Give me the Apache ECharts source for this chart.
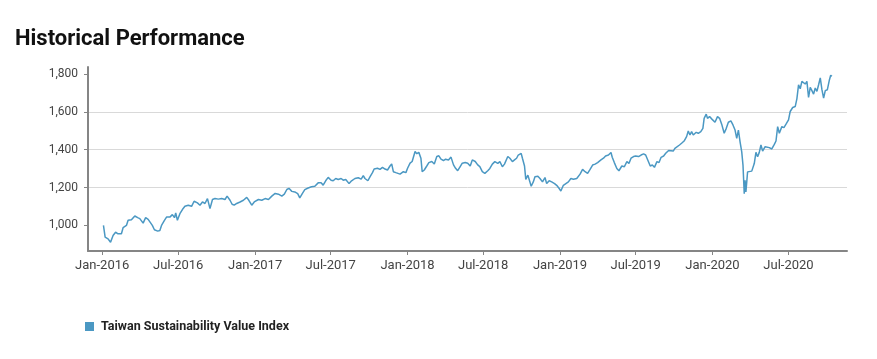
<!DOCTYPE html>
<html>
<head>
<meta charset="utf-8">
<script src="https://cdn.jsdelivr.net/npm/echarts@6/dist/echarts.min.js"></script>
<style>
html,body{margin:0;padding:0;background:#fff;}
#chart{width:877px;height:359px;}
</style>
</head>
<body>
<div id="chart"></div>
<script>
// Days since 2016-01-01 for each observation
var days = [
3,7,14,20,26,32,38,46,50,58,62,70,78,85,90,98,104,110,114,120,125,133,138,142,149,154,162,168,173,176,
180,186,192,198,206,214,220,228,234,240,246,252,258,264,270,278,286,294,299,306,311,316,322,330,338,346,351,358,364,374,
382,390,398,406,414,422,430,436,442,447,
454,461,468,473,479,485,493,501,509,517,524,529,535,541,548,553,559,565,572,577,583,591,597,605,613,620,625,629,636,641,
647,651,659,665,671,677,683,689,693,697,703,707,713,721,727,731,737,742,749,753,758,763,766,771,777,782,789,795,801,806,
811,817,822,829,835,841,846,851,857,862,869,875,881,886,893,899,904,
910,916,923,928,934,940,947,952,958,963,971,976,982,987,992,996,1003,1006,1011,1014,1019,1023,1027,1032,1036,1043,1048,1054,1060,1064,
1070,1076,1083,1088,1094,1098,1104,1110,1116,1122,1128,1136,1144,1150,1156,1162,1168,1174,1180,1186,1194,1200,1205,1212,1218,1221,1226,1232,1237,1244,
1250,1256,1261,1266,1272,1277,1284,1290,1296,1301,1306,1312,1317,1322,1328,1333,1338,1344,1349,1356,1360,
1367,1371,1375,1382,1387,1393,1399,1403,1407,1411,1415,1422,1427,1433,1438,1441,1446,1449,1454,1459,1463,1467,1473,1478,1483,1489,1494,1499,1505,1510,
1515,1519,1523,1527,1531,1534,1537,1539,1541,1545,1549,1555,1561,1565,1569,1573,1577,1581,1587,1591,1597,1603,1609,1613,1617,1621,1627,1632,1637,1643,
1647,1653,1659,1663,1667,1671,1675,1679,1683,1687,1691,1695,1699,1703,1707,1711,1715,1719,1723,1727,1731,1736,1741,1744,1747
];
var values = [
1000,938,929,911,947,964,956,956,988,1000,1027,1030,1050,1041,1036,1012,1041,1032,1036,1000,977,970,973,1000,1027,1044,1044,1057,1041,1066,
1027,1062,1084,1101,1107,1101,1128,1119,1107,1124,1116,1142,1089,1137,1142,1139,1142,1137,1155,1133,1112,1107,1116,1124,1133,1148,1133,1107,1124,1137,
1133,1142,1137,1155,1169,1165,1155,1165,1190,1196,
1180,1177,1168,1146,1168,1189,1198,1204,1207,1225,1225,1213,1236,1254,1239,1236,1248,1243,1248,1239,1243,1221,1236,1248,1252,1245,1263,1248,1236,1257,
1279,1298,1302,1296,1307,1298,1293,1314,1325,1284,1279,1289,1271,1284,1279,1302,1329,1338,1391,1379,1386,1355,1284,1293,1314,1332,1338,1325,1364,1368,
1350,1343,1350,1346,1361,1320,1302,1289,1311,1329,1332,1329,1314,1346,1338,1320,1311,
1284,1275,1289,1301,1324,1337,1328,1337,1310,1324,1364,1355,1337,1346,1355,1372,1381,1355,1314,1243,1266,1257,1207,1230,1257,1260,1248,1230,1253,1221,
1236,1230,1221,1212,1195,1182,1212,1221,1230,1248,1244,1248,1271,1296,1284,1275,1296,1319,1324,1332,1346,1355,1367,1372,1385,1360,1332,1301,1289,1314,
1310,1337,1328,1355,1364,1367,1364,1372,1378,1372,1346,1314,1319,1307,1337,1332,1360,1367,1381,1396,1390,
1393,1407,1398,1425,1434,1446,1469,1499,1478,1496,1478,1492,1487,1496,1513,1566,1588,1566,1575,1563,1570,1545,1575,1566,1535,1487,1513,1545,1552,1531,
1504,1460,1504,1442,1389,1319,1168,1239,1177,1283,1274,1287,1327,1386,1363,1386,1425,1393,1416,1407,1411,1404,1428,1446,1522,1487,1522,1517,1535,1558,
1602,1623,1628,1669,1743,1722,1761,1770,1747,1761,1676,1729,1712,1694,1726,1708,1743,1779,1717,1673,1712,1717,1770,1793,1788
];
var seriesName = 'Taiwan Sustainability Value Index';
var tickDates = ['2016-01-01','2016-07-01','2017-01-01','2017-07-01','2018-01-01','2018-07-01','2019-01-01','2019-07-01','2020-01-01','2020-07-01'];
var tickLabels = ['Jan-2016','Jul-2016','Jan-2017','Jul-2017','Jan-2018','Jul-2018','Jan-2019','Jul-2019','Jan-2020','Jul-2020'];
var yTicks = [1000, 1200, 1400, 1600, 1800];
var yMin = 865, yMax = 1837;
var xMinDay = -34, xMaxDay = 1783;

var DAY = 86400000;
var base = Date.UTC(2016, 0, 1);
function dayOf(s){ var p = s.split('-'); return Math.round((Date.UTC(+p[0], +p[1]-1, +p[2]) - base) / DAY); }
var tickDays = tickDates.map(dayOf);
var labelMap = {};
tickDays.forEach(function(t, i){ labelMap[t] = tickLabels[i]; });
var data = days.map(function(d, i){ return [d, values[i]]; });

var chart = echarts.init(document.getElementById('chart'), null, {renderer: 'canvas'});
var font = 'Roboto, "Liberation Sans", sans-serif';
chart.setOption({
  animation: false,
  backgroundColor: '#ffffff',
  title: {
    text: 'Historical Performance',
    left: 15, top: 28, padding: 0,
    textStyle: {fontFamily: font, fontSize: 22, fontWeight: 'bold', color: '#111111'}
  },
  legend: {
    left: 85, top: 320, padding: 0,
    icon: 'rect', itemWidth: 9, itemHeight: 9, itemGap: 10,
    textStyle: {fontFamily: font, fontSize: 12.5, fontWeight: 'bold', color: '#222222', padding: [0,0,0,2]},
    data: [seriesName]
  },
  grid: {left: 88, right: 30, top: 67, bottom: 108, containLabel: false},
  xAxis: {
    type: 'value',
    min: xMinDay,
    max: xMaxDay,
    axisLine: {show: true, onZero: false, lineStyle: {color: '#858585', width: 2}},
    axisTick: {show: true, customValues: tickDays, length: 4, lineStyle: {color: '#858585', width: 1}},
    axisLabel: {
      customValues: tickDays,
      fontFamily: font, fontSize: 13, color: '#444444', margin: 8,
      formatter: function(v){ return labelMap[v] || ''; }
    },
    splitLine: {show: false}
  },
  yAxis: {
    type: 'value',
    min: yMin, max: yMax,
    splitNumber: 5,
    axisLine: {show: true, onZero: false, lineStyle: {color: '#858585', width: 2}},
    axisTick: {show: true, customValues: yTicks, length: 4, lineStyle: {color: '#858585', width: 1}},
    axisLabel: {
      customValues: yTicks,
      fontFamily: font, fontSize: 12, color: '#444444', margin: 10,
      formatter: function(v){ return echarts.format.addCommas(v); }
    },
    splitLine: {show: true, showMinLine: false, showMaxLine: false, lineStyle: {color: '#d9d9d9', width: 1}}
  },
  series: [{
    name: seriesName,
    type: 'line',
    data: data,
    showSymbol: false,
    symbol: 'none',
    lineStyle: {color: '#4b98c3', width: 1.5},
    itemStyle: {color: '#4b98c3'}
  }]
});
</script>
</body>
</html>
